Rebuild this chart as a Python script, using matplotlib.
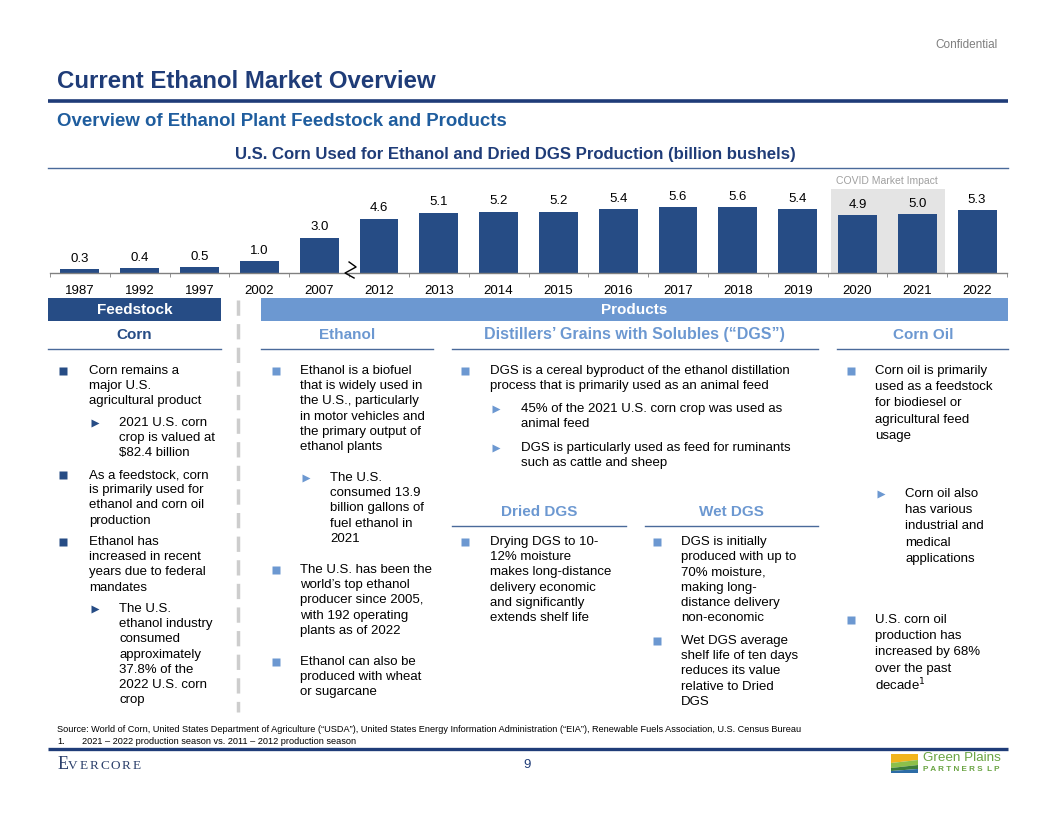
import matplotlib
matplotlib.use("Agg")
import matplotlib.pyplot as plt
from matplotlib.patches import Rectangle, Polygon

plt.rcParams['font.family'] = ['Liberation Sans', 'DejaVu Sans']
plt.rcParams['lines.scale_dashes'] = False

# ---------------- data ----------------
years = ["1987", "1992", "1997", "2002", "2007", "2012", "2013", "2014",
         "2015", "2016", "2017", "2018", "2019", "2020", "2021", "2022"]
corn_used = [0.3, 0.4, 0.5, 1.0, 3.0, 4.6, 5.1, 5.2, 5.2, 5.4, 5.6, 5.6, 5.4, 4.9, 5.0, 5.3]
covid_years = ["2020", "2021"]
break_after = "2007"

# ---------------- colors ----------------
DARK = "#264C85"
TITLE = "#1F3C78"
SUB = "#1F5D9E"
LIGHT = "#6C98D1"
GRAY_TXT = "#7F7F7F"

W, H = 1056, 816
fig = plt.figure(figsize=(W / 100, H / 100), dpi=100)
bg = fig.add_axes([0, 0, 1, 1])
bg.set_xlim(0, W)
bg.set_ylim(H, 0)
bg.axis("off")


def T(x, y, s, size=9.5, color="black", weight="normal", ha="left", **kw):
    bg.text(x, y, s, fontsize=size, color=color, fontweight=weight, ha=ha, va="center", **kw)


# ---------------- header ----------------
T(998, 45, "Confidential", size=8.5, color=GRAY_TXT, ha="right")
T(57, 82, "Current Ethanol Market Overview", size=17.3, color=TITLE, weight="bold")
bg.plot([48, 1008], [101, 101], color=TITLE, lw=2.6, solid_capstyle="butt")
T(57, 122, "Overview of Ethanol Plant Feedstock and Products", size=13.4, color=SUB, weight="bold")
T(515, 155, "U.S. Corn Used for Ethanol and Dried DGS Production (billion bushels)", size=12.1,
  color=TITLE, weight="bold", ha="center")
bg.plot([48, 1008], [168, 168], color="#4A6A9A", lw=1.0)

# ---------------- bar chart ----------------
x0, x1 = 50, 1007
base_y, top_y = 273, 185
px_per_unit = 11.8
ymax = (base_y - top_y) / px_per_unit
ax = fig.add_axes([x0 / W, 1 - base_y / H, (x1 - x0) / W, (base_y - top_y) / H])
n = len(years)
idx = list(range(n))
ax.set_xlim(-0.5, n - 0.5)
ax.set_ylim(0, ymax)
ax.patch.set_alpha(0)
px_x = n / (x1 - x0)          # data units per pixel (x)
px_y = 1 / px_per_unit        # data units per pixel (y)

# covid shading
ci = [years.index(y) for y in covid_years]
ax.add_patch(Rectangle((min(ci) - 0.45, 0), (max(ci) - min(ci)) + 0.92, 7.1,
                       facecolor="#E4E4E4", edgecolor="none", zorder=0, clip_on=False))
ax.text((min(ci) + max(ci)) / 2, 7.8, "COVID Market Impact", fontsize=7.5, color="#A0A0A0",
        ha="center", va="center", clip_on=False)

ax.bar(idx, corn_used, width=0.65, color=DARK, zorder=2)
for i, v in zip(idx, corn_used):
    ax.text(i, v + 0.88, f"{v:.1f}", ha="center", va="center", fontsize=9.5, color="black")

for s in ["top", "left", "right"]:
    ax.spines[s].set_visible(False)
ax.spines["bottom"].set_color("#808080")
ax.spines["bottom"].set_linewidth(1.0)
ax.set_yticks([])
ax.set_xticks(idx)
ax.set_xticklabels(years, fontsize=9.5)
ax.tick_params(axis="x", which="major", length=0, pad=9)
ax.set_xticks([i - 0.5 for i in range(n + 1)], minor=True)
ax.tick_params(axis="x", which="minor", length=3, color="#808080", direction="out")

# axis break mark (zigzag)
b = years.index(break_after) + 0.5
zx = [b + 0 * px_x, b + 7 * px_x, b - 4 * px_x, b + 5 * px_x]
zy = [11 * px_y, 6 * px_y, 0, -5 * px_y]
ax.plot(zx, zy, color="black", lw=1.0, clip_on=False, zorder=5)

# ---------------- section banners ----------------
bg.add_patch(Rectangle((48, 298), 173, 23, facecolor=DARK, edgecolor="none"))
T(134.5, 310, "Feedstock", size=11, color="white", weight="bold", ha="center")
bg.add_patch(Rectangle((261, 298), 747, 23, facecolor=LIGHT, edgecolor="none"))
T(634.5, 310, "Products", size=11, color="white", weight="bold", ha="center")

bg.plot([238, 238], [300, 712], color="#CDCDCD", lw=2.5, dashes=(11, 6))

# column headers
heads = [
    ("Corn", 134.5, 335, 48, 221, DARK, 11),
    ("Ethanol", 347, 335, 261, 433, LIGHT, 11),
    ("Distillers\u2019 Grains with Solubles (\u201cDGS\u201d)", 634, 335, 452, 818, LIGHT, 11.5),
    ("Corn Oil", 923, 335, 837, 1008, LIGHT, 11),
    ("Dried DGS", 539, 512, 452, 626, LIGHT, 11),
    ("Wet DGS", 731, 512, 645, 818, LIGHT, 11),
]
for name, cx, cy, lx0, lx1, col, fs in heads:
    T(cx, cy, name, size=fs, color=col, weight="bold", ha="center")
    bg.plot([lx0, lx1], [cy + 14, cy + 14], color="#4A6A9A", lw=1.0)


def bullet(kind, bx, tx, y, lines, col, step=15.2):
    if kind == "sq":
        bg.plot([bx], [y], marker="s", ms=5.2, color=col, mec="none")
    else:
        bg.plot([bx], [y], marker=">", ms=6, color=col, mec="none")
    for k, ln in enumerate(lines):
        T(tx, y + k * step, ln, size=9.5)


# Corn column
bullet("sq", 63, 89, 371, ["Corn remains a", "major U.S.", "agricultural product"], DARK)
bullet("tri", 95, 119, 423, ["2021 U.S. corn", "crop is valued at", "$82.4 billion"], DARK)
bullet("sq", 63, 89, 475, ["As a feedstock, corn", "is primarily used for", "ethanol and corn oil", "production"], DARK)
bullet("sq", 63, 89, 542, ["Ethanol has", "increased in recent", "years due to federal", "mandates"], DARK)
bullet("tri", 95, 119, 609, ["The U.S.", "ethanol industry", "consumed", "approximately",
                            "37.8% of the", "2022 U.S. corn", "crop"], DARK)

# Ethanol column
bullet("sq", 276, 300, 371, ["Ethanol is a biofuel", "that is widely used in", "the U.S., particularly",
                             "in motor vehicles and", "the primary output of", "ethanol plants"], LIGHT)
bullet("tri", 306, 330, 478, ["The U.S.", "consumed 13.9", "billion gallons of", "fuel ethanol in", "2021"], LIGHT)
bullet("sq", 276, 300, 570, ["The U.S. has been the", "world\u2019s top ethanol", "producer since 2005,",
                             "with 192 operating", "plants as of 2022"], LIGHT)
bullet("sq", 276, 300, 662, ["Ethanol can also be", "produced with wheat", "or sugarcane"], LIGHT)

# DGS column
bullet("sq", 465, 490, 371, ["DGS is a cereal byproduct of the ethanol distillation",
                             "process that is primarily used as an animal feed"], LIGHT)
bullet("tri", 496, 521, 409, ["45% of the 2021 U.S. corn crop was used as", "animal feed"], LIGHT)
bullet("tri", 496, 521, 448, ["DGS is particularly used as feed for ruminants", "such as cattle and sheep"], LIGHT)

bullet("sq", 465, 490, 542, ["Drying DGS to 10-", "12% moisture", "makes long-distance",
                             "delivery economic", "and significantly", "extends shelf life"], LIGHT)
bullet("sq", 657, 681, 542, ["DGS is initially", "produced with up to", "70% moisture,",
                             "making long-", "distance delivery", "non-economic"], LIGHT)
bullet("sq", 657, 681, 641, ["Wet DGS average", "shelf life of ten days", "reduces its value",
                             "relative to Dried", "DGS"], LIGHT)

# Corn oil column
bullet("sq", 851, 875, 371, ["Corn oil is primarily", "used as a feedstock", "for biodiesel or",
                             "agricultural feed", "usage"], LIGHT, step=16.2)
bullet("tri", 881, 905, 494, ["Corn oil also", "has various", "industrial and", "medical", "applications"],
       LIGHT, step=16.2)
bullet("sq", 851, 875, 620, ["U.S. corn oil", "production has", "increased by 68%", "over the past",
                             "decade$^{1}$"], LIGHT, step=16.2)

# ---------------- footer ----------------
T(57, 729, "Source: World of Corn, United States Department of Agriculture (\u201cUSDA\u201d), United States Energy "
           "Information Administration (\u201cEIA\u201d), Renewable Fuels Association, U.S. Census Bureau", size=6.6)
T(57, 741, "1.", size=6.6)
T(82, 741, "2021 \u2013 2022 production season vs. 2011 \u2013 2012 production season", size=6.6)
bg.plot([48, 1008], [749, 749], color=TITLE, lw=2.4, solid_capstyle="butt")

# Evercore wordmark (letter-spaced small caps)
bg.text(57.5, 764.5, "E", fontsize=13, family="Liberation Serif", color="#2B3F6B", va="center", ha="left")
for k, ch in enumerate("VERCORE"):
    bg.text(72.5 + k * 10.7, 766, ch, fontsize=9.5, family="Liberation Serif", color="#2B3F6B",
            va="center", ha="center")
T(527, 765, "9", size=9.5, color=TITLE, ha="center")

# Green Plains logo (approximate)
bg.add_patch(Polygon([[891, 754], [918, 754], [918, 760], [891, 763]], facecolor="#F2B41C", edgecolor="none"))
bg.add_patch(Polygon([[891, 763], [918, 760], [918, 765], [891, 768]], facecolor="#8DC04A", edgecolor="none"))
bg.add_patch(Polygon([[891, 768], [918, 765], [918, 769], [891, 771]], facecolor="#3D7E3A", edgecolor="none"))
bg.add_patch(Polygon([[891, 771], [918, 769], [918, 773], [891, 773]], facecolor="#2D6CA6", edgecolor="none"))
T(923, 758, "Green Plains", size=9.7, color="#6AA443")
T(923, 769.5, "P A R T N E R S  L P", size=5.9, color="#6AA443", weight="bold")

fig.savefig("out.png", dpi=100)
